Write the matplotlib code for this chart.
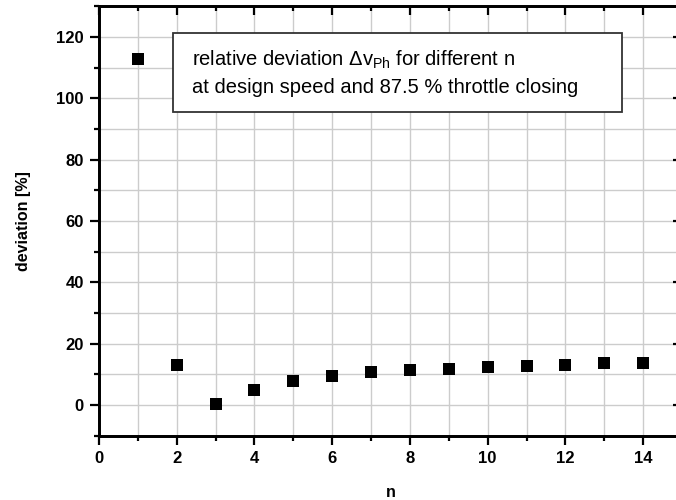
import matplotlib
matplotlib.use("Agg")
import matplotlib.pyplot as plt
from matplotlib.patches import Rectangle
from matplotlib.ticker import MultipleLocator

plt.rcParams['font.family'] = ['Liberation Sans', 'DejaVu Sans']
plt.rcParams['mathtext.fontset'] = 'custom'
plt.rcParams['mathtext.rm'] = 'Liberation Sans'
plt.rcParams['mathtext.it'] = 'Liberation Sans'

n_values = [1, 2, 3, 4, 5, 6, 7, 8, 9, 10, 11, 12, 13, 14]
deviation = [112.8, 13.0, 0.2, 5.0, 7.8, 9.5, 10.8, 11.5, 11.8, 12.4, 12.8, 13.2, 13.6, 13.6]
x_ticks = [0, 2, 4, 6, 8, 10, 12, 14]
y_ticks = [0, 20, 40, 60, 80, 100, 120]
x_label = 'n'
y_label = 'deviation [%]'
note_line1 = r'relative deviation $\Delta$v$_{\mathrm{Ph}}$ for different n'
note_line2 = 'at design speed and 87.5 % throttle closing'

W, H = 676, 500
fig = plt.figure(figsize=(W / 100, H / 100), dpi=100)
left, right, top, bottom = 99, 682, 6.3, 435.7
ax = fig.add_axes([left / W, 1 - bottom / H, (right - left) / W, (bottom - top) / H])

ax.scatter(n_values, deviation, marker='s', s=70, color='black', zorder=3, linewidths=0)

ax.set_xlim(0, 15)
ax.set_ylim(-10, 130)
ax.set_xticks(x_ticks)
ax.set_yticks(y_ticks)
ax.xaxis.set_minor_locator(MultipleLocator(1))
ax.yaxis.set_minor_locator(MultipleLocator(10))

ax.grid(True, which='both', color='#cccccc', linewidth=1.0, zorder=0)
ax.set_axisbelow(True)

for s in ax.spines.values():
    s.set_linewidth(1.8)
    s.set_color('black')

ax.tick_params(which='major', direction='out', length=6.5, width=1.6,
               labelsize=12, pad=4.5, top=False, right=False)
ax.tick_params(which='minor', direction='out', length=3.5, width=1.6,
               top=False, right=False)
for lab in ax.get_xticklabels() + ax.get_yticklabels():
    lab.set_fontweight('bold')

# inward ticks on top and right via twin axes
axr = ax.twinx()
axr.set_ylim(ax.get_ylim())
axr.set_yticks(y_ticks)
axr.yaxis.set_minor_locator(MultipleLocator(10))
axr.tick_params(which='major', direction='in', length=6.5, width=1.6, labelright=False)
axr.tick_params(which='minor', direction='in', length=3.5, width=1.6)
axt = ax.twiny()
axt.set_xlim(ax.get_xlim())
axt.set_xticks(x_ticks)
axt.xaxis.set_minor_locator(MultipleLocator(1))
axt.tick_params(which='major', direction='in', length=6.5, width=1.6, labeltop=False)
axt.tick_params(which='minor', direction='in', length=3.5, width=1.6)
for a in (axr, axt):
    for s in a.spines.values():
        s.set_linewidth(1.8)

ax.set_xlabel(x_label, fontsize=11.5, fontweight='bold', labelpad=14)
ax.set_ylabel(y_label, fontsize=11.5, fontweight='bold', labelpad=18)

# annotation box (figure pixel coordinates)
bx0, bx1, by0, by1 = 173, 622, 33, 112
rect = Rectangle((bx0 / W, 1 - by1 / H), (bx1 - bx0) / W, (by1 - by0) / H,
                 transform=fig.transFigure, facecolor='white', edgecolor='#333333',
                 linewidth=1.3, zorder=5)
fig.patches.append(rect)
fig.text(192 / W, 1 - 66 / H, note_line1, fontsize=14.5, va='baseline', ha='left', zorder=6)
fig.text(192 / W, 1 - 93 / H, note_line2, fontsize=14.5, va='baseline', ha='left', zorder=6)

fig.savefig('out.png', dpi=100)
